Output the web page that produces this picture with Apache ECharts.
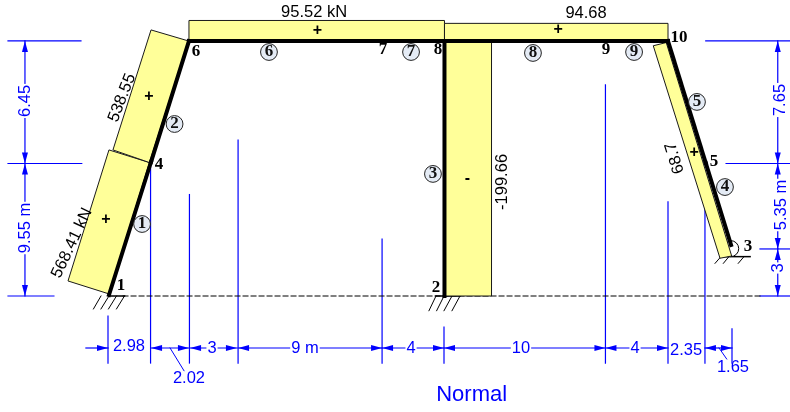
<!DOCTYPE html>
<html>
<head>
<meta charset="utf-8">
<title>Normal</title>
<script src="https://cdn.jsdelivr.net/npm/echarts@6/dist/echarts.min.js"></script>
<style>
  html, body { margin: 0; padding: 0; background: #ffffff; }
  #chart { width: 790px; height: 412px; }
</style>
</head>
<body>
<div id="chart"></div>
<script>
// all values in metres (frame is drawn roughly to scale)
const nodeX = [0.06, 21.03, 38.94, 2.69, 37.36, 5.06, 17.06, 21.03, 31.06, 35];
const nodeY = [0.06, 0, 3.19, 8.38, 8.31, 15.94, 15.94, 15.94, 15.94, 15.94];
const nodeNames = ['1', '2', '3', '4', '5', '6', '7', '8', '9', '10'];
const nodeNameX = [0.81, 20.5, 40, 3.19, 37.88, 5.5, 17.19, 20.63, 31.13, 35.69];
const nodeNameY = [0.63, 0.5, 3.06, 8.19, 8.38, 15.25, 15.38, 15.38, 15.38, 16.13];

// start and end node of each member
const members = [[1, 4], [4, 6], [2, 8], [3, 5], [5, 10], [6, 7], [7, 8], [8, 9], [9, 10]];
const memberNames = ['1', '2', '3', '4', '5', '6', '7', '8', '9'];
const memberNameX = [2.13, 4.16, 20.31, 38.56, 36.81, 10.06, 18.94, 26.56, 32.88];
const memberNameY = [4.5, 10.75, 7.63, 6.81, 12.13, 15.25, 15.25, 15.19, 15.25];

// normal force diagram
const diagrams = [
  [[0.06, 0.13], [-2.5, 0.94], [0.06, 9.13], [2.59, 8.34]],
  [[0.31, 9.13], [2.59, 8.34], [5.03, 15.94], [2.69, 16.63]],
  [[5.06, 17.22], [21.03, 17.22], [21.03, 15.94], [5.06, 15.94]],
  [[21.03, 17.04], [35, 17.04], [35, 15.94], [21.03, 15.94]],
  [[21.06, 15.94], [23.97, 15.94], [23.97, 0], [21.06, 0]],
  [[34.08, 15.64], [34.89, 15.84], [38.98, 2.5], [38.25, 2.36]]
];
const forceLabels = ['95.52 kN', '94.68', '538.55', '568.41 kN', '-199.66', '68.7'];
const forceLabelX = [12.88, 29.88, 0.88, -2.25, 24.63, 35.44];
const forceLabelY = [17.75, 17.69, 12.38, 3.31, 7.13, 8.63];
const signs = ['+', '+', '+', '+', '-', '+'];
const signX = [13.09, 28.13, 2.56, -0.13, 22.47, 36.63];
const signY = [16.56, 16.63, 12.44, 4.75, 7.31, 8.94];

// dimension lines along the bottom
const xStations = [0, 2.66, 5.09, 8.13, 17.13, 21, 31.09, 35, 37.31, 39];
const xStationTop = [-1.25, 8.31, 6.34, 9.75, 3.56, -1.94, 13.19, 5.88, 6.63, -2.06];
const xStationBottom = -4.19;
const xDimY = -3.25;
const xSpans = [[2.69, 5.06], [5.13, 8.06], [8.13, 17.13], [17.13, 21], [21, 31.09], [31.09, 35], [37.31, 39]];
const xOutsideArrow = [-1.38, 0];
const xSpanLabels = ['3', '9 m', '4', '10', '4'];
const xSpanLabelX = [6.5, 12.31, 18.94, 25.81, 32.94];
const xFreeLabels = ['2.98', '2.02', '2.35', '1.65'];
const xFreeLabelX = [1.31, 5.06, 36.13, 39.06];
const xFreeLabelY = [-3.13, -5.13, -3.38, -4.44];
const leaders = [[3.88, -3.25, 4.75, -4.67], [38.19, -3.25, 38.67, -3.94]];

// dimension lines at the sides
const leftDimX = -5.19;
const leftLevels = [0, 8.28, 15.94];
const leftLabels = ['9.55 m', '6.45'];
const leftLabelY = [4.25, 12.19];
const rightDimX = 41.86;
const rightLevels = [0, 2.94, 8.28, 15.94];
const rightLabels = ['3', '5.35 m', '7.65'];
const rightLabelX = [41.88, 42.1, 42];
const rightLabelY = [1.75, 5.69, 12.25];
const levelLines = [
  [-6.25, 15.94, -1.69, 15.94], [-6.25, 8.28, -1.64, 8.28], [-6.25, 0, -3.38, 0],
  [37.36, 15.94, 42.63, 15.94], [38.63, 8.28, 42.63, 8.28], [40.75, 2.94, 42.63, 2.94], [40.75, 0, 42.63, 0]
];

// ground and supports
const groundLine = [[0.94, 0, 40.75, 0]];
const supportBases = [[0.06, 0, 1.03, 0], [20.5, 0, 22, 0], [38.25, 2.46, 40.13, 2.46]];
const supportHatch = [
  [-0.44, 0, -0.91, -0.81], [0.06, 0, -0.44, -0.81], [0.53, 0, 0.03, -0.81], [1.03, 0, 0.53, -0.81],
  [20.5, 0, 20.06, -0.92], [21, 0, 20.54, -0.92], [21.5, 0, 21, -0.92], [22, 0, 21.5, -0.92],
  [38.31, 2.46, 37.94, 2.04], [38.81, 2.46, 38.46, 2.04], [39.75, 2.46, 39.39, 2.04]
];
const rollerCentre = [[38.92, 2.96]];
const title = 'Normal';
const titleAt = [[22.73, -6.2]];

const BLUE = '#0000ff';
const SANS = '"Liberation Sans", Arial, sans-serif';
const SERIF = '"Liberation Serif", "Times New Roman", serif';

function zip(a, b) {
  return a.map((v, i) => [v, b[i]]);
}

function arrowHead(tip, from) {
  const dx = from[0] - tip[0];
  const dy = from[1] - tip[1];
  const len = Math.sqrt(dx * dx + dy * dy) || 1;
  const ux = dx / len;
  const uy = dy / len;
  const size = 11;
  const half = 3;
  return {
    type: 'polygon',
    shape: {
      points: [
        tip,
        [tip[0] + ux * size - uy * half, tip[1] + uy * size + ux * half],
        [tip[0] + ux * size + uy * half, tip[1] + uy * size - ux * half]
      ]
    },
    style: { fill: BLUE }
  };
}

// one straight segment per row: x1, y1, x2, y2
function segments(rows, color, width, z, arrows, dash) {
  return {
    type: 'custom',
    coordinateSystem: 'cartesian2d',
    clip: false,
    silent: true,
    z: z,
    data: rows,
    encode: { x: 0, y: 1 },
    renderItem: function (params, api) {
      const a = api.coord([api.value(0), api.value(1)]);
      const b = api.coord([api.value(2), api.value(3)]);
      const children = [{
        type: 'line',
        shape: { x1: a[0], y1: a[1], x2: b[0], y2: b[1] },
        style: { stroke: color, lineWidth: width, lineDash: dash || null, lineCap: 'square' }
      }];
      if (arrows === 'both') children.push(arrowHead(a, b));
      if (arrows === 'both' || arrows === 'end') children.push(arrowHead(b, a));
      return { type: 'group', children: children };
    }
  };
}

function texts(names, points, font, color, z, rotation, gap) {
  return {
    type: 'custom',
    coordinateSystem: 'cartesian2d',
    clip: false,
    silent: true,
    z: z,
    data: points,
    encode: { x: 0, y: 1 },
    renderItem: function (params, api) {
      const p = api.coord([api.value(0), api.value(1)]);
      const style = {
        text: names[params.dataIndex],
        font: font,
        fill: color,
        align: 'center',
        verticalAlign: 'middle'
      };
      if (gap) {
        style.backgroundColor = '#ffffff';
        style.padding = [0, 1];
      }
      return {
        type: 'text',
        x: p[0],
        y: p[1],
        rotation: rotation ? rotation[params.dataIndex] : 0,
        style: style
      };
    }
  };
}

const frameRows = members.map(m => [nodeX[m[0] - 1], nodeY[m[0] - 1], nodeX[m[1] - 1], nodeY[m[1] - 1]]);
const stationRows = xStations.map((x, i) => [x, xStationTop[i], x, xStationBottom]);
const xSpanRows = xSpans.map(s => [s[0], xDimY, s[1], xDimY]);
const leftRows = leftLevels.slice(1).map((y, i) => [leftDimX, leftLevels[i], leftDimX, y]);
const rightRows = rightLevels.slice(1).map((y, i) => [rightDimX, rightLevels[i], rightDimX, y]);

const diagramSeries = {
  type: 'custom',
  coordinateSystem: 'cartesian2d',
  clip: false,
  silent: true,
  z: 3,
  data: diagrams.map(d => d[0]),
  encode: { x: 0, y: 1 },
  renderItem: function (params, api) {
    return {
      type: 'polygon',
      shape: { points: diagrams[params.dataIndex].map(p => api.coord(p)) },
      style: { fill: '#ffff99', stroke: '#1a1a1a', lineWidth: 1 }
    };
  }
};

const rollerSeries = {
  type: 'custom',
  coordinateSystem: 'cartesian2d',
  clip: false,
  silent: true,
  z: 2,
  data: rollerCentre,
  encode: { x: 0, y: 1 },
  renderItem: function (params, api) {
    const p = api.coord([api.value(0), api.value(1)]);
    return {
      type: 'circle',
      shape: { cx: p[0], cy: p[1], r: 8 },
      style: { fill: '#ffffff', stroke: '#000000', lineWidth: 1 }
    };
  }
};

const memberCircles = {
  type: 'custom',
  coordinateSystem: 'cartesian2d',
  clip: false,
  silent: true,
  z: 5,
  data: zip(memberNameX, memberNameY),
  encode: { x: 0, y: 1 },
  renderItem: function (params, api) {
    const p = api.coord([api.value(0), api.value(1)]);
    return {
      type: 'circle',
      shape: { cx: p[0], cy: p[1], r: 8.4 },
      style: { fill: '#e4ebf5', stroke: '#222222', lineWidth: 1 }
    };
  }
};

const chart = echarts.init(document.getElementById('chart'));
chart.setOption({
  animation: false,
  backgroundColor: '#ffffff',
  grid: { left: 0, right: 0, top: 0, bottom: 0 },
  xAxis: { type: 'value', min: -6.75, max: 42.625, show: false },
  yAxis: { type: 'value', min: -7.25, max: 18.5, show: false },
  series: [
    segments(stationRows, BLUE, 1.2, 1),
    segments(levelLines, BLUE, 1.2, 1),
    segments(leaders, BLUE, 1, 1),
    segments(xSpanRows, BLUE, 1.2, 1, 'both'),
    segments([[xOutsideArrow[0], xDimY, xOutsideArrow[1], xDimY]], BLUE, 1.2, 1, 'end'),
    segments(leftRows, BLUE, 1.2, 1, 'both'),
    segments(rightRows, BLUE, 1.2, 1, 'both'),
    segments(groundLine, '#000000', 1, 1, null, [5, 3]),
    segments(supportBases, '#000000', 1.5, 2),
    segments(supportHatch, '#000000', 1, 2),
    rollerSeries,
    diagramSeries,
    segments(frameRows, '#000000', 4, 4),
    memberCircles,
    texts(memberNames, zip(memberNameX, memberNameY), 'bold 17px ' + SERIF, '#111111', 6),
    texts(nodeNames, zip(nodeNameX, nodeNameY), 'bold 17px ' + SERIF, '#000000', 6),
    texts(forceLabels, zip(forceLabelX, forceLabelY), '16.5px ' + SANS, '#000000', 6,
      [0, 0, 1.2, 1.13, Math.PI / 2, 1.87]),
    texts(signs, zip(signX, signY), 'bold 16px ' + SANS, '#000000', 6),
    texts(xSpanLabels, xSpanLabelX.map(x => [x, xDimY]), '16.5px ' + SANS, BLUE, 6, null, true),
    texts(xFreeLabels, zip(xFreeLabelX, xFreeLabelY), '16.5px ' + SANS, BLUE, 6),
    texts(leftLabels, leftLabelY.map(y => [leftDimX, y]), '16.5px ' + SANS, BLUE, 6,
      [Math.PI / 2, Math.PI / 2], true),
    texts(rightLabels, zip(rightLabelX, rightLabelY), '16.5px ' + SANS, BLUE, 6,
      [Math.PI / 2, Math.PI / 2, Math.PI / 2], true),
    texts([title], titleAt, '22px ' + SANS, BLUE, 6)
  ]
});
</script>
</body>
</html>
